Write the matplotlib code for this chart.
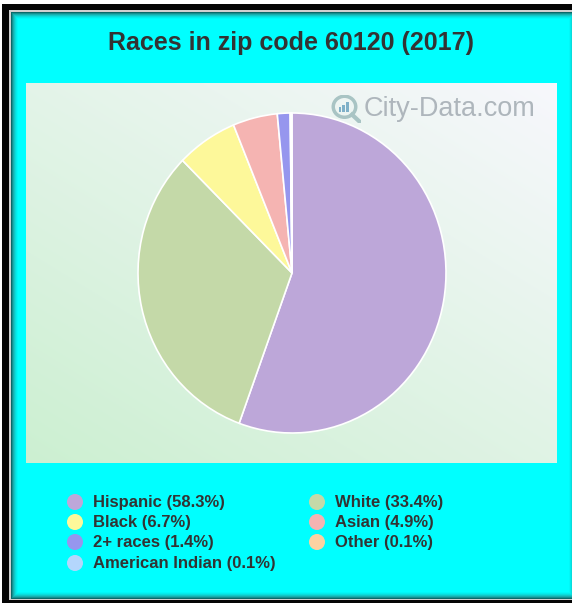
import matplotlib
matplotlib.use("Agg")
import matplotlib.pyplot as plt
import numpy as np
from matplotlib.patches import Rectangle, Ellipse

plt.rcParams['font.family'] = ['Liberation Sans', 'DejaVu Sans']

title = "Races in zip code 60120 (2017)"
categories = ["Hispanic", "White", "Black", "Asian", "2+ races", "Other", "American Indian"]
percents = [58.3, 33.4, 6.7, 4.9, 1.4, 0.1, 0.1]
colors = ["#bda7d9", "#c4d9a8", "#fdf89a", "#f5b4b2", "#9696ee", "#fcd2a2", "#b4d6fc"]
legend_order = [0, 1, 2, 3, 4, 5, 6]

W, H = 572, 603
fig = plt.figure(figsize=(W / 100, H / 100), dpi=100)
fig.patch.set_facecolor("white")

def fx(x):
    return x / W

def fy(y):
    return 1 - y / H

# frame / background
bg = fig.add_axes([0, 0, 1, 1])
bg.set_xlim(0, W)
bg.set_ylim(H, 0)
bg.axis("off")
bg.add_patch(Rectangle((2, 4), W + 10, H + 10, facecolor="#050505", edgecolor="none"))
bg.add_patch(Rectangle((9, 10), W + 10, H - 13, facecolor="#d0d0d0", edgecolor="none"))
# inner shadow layers
shades = ["#0a6a6a", "#129090", "#18aeae", "#12c6c6", "#0adcdc", "#04ecec", "#01f8f8"]
x0, y0, x1, y1 = 11, 12, W + 4, H - 4
for i, c in enumerate(shades):
    bg.add_patch(Rectangle((x0 + i, y0 + i), (x1 - x0) - 2 * i, (y1 - y0) - 2 * i,
                           facecolor=c, edgecolor="none"))
n = len(shades)
bg.add_patch(Rectangle((x0 + n, y0 + n), (x1 - x0) - 2 * n, (y1 - y0) - 2 * n,
                       facecolor="#00ffff", edgecolor="none"))

# plot area gradient
px0, py0, px1, py1 = 26, 83, 557, 463
grad_ax = fig.add_axes([fx(px0), fy(py1), fx(px1 - px0), (py1 - py0) / H])
gx = np.linspace(0, 1, 200)
gy = np.linspace(0, 1, 200)
GX, GY = np.meshgrid(gx, gy)
t = np.clip((GX * 0.6 + (1 - GY) * 0.7) / 1.3, 0, 1)  # 0 bottom-left, 1 top-right
c0 = np.array([0.80, 0.94, 0.82])
c1 = np.array([0.97, 0.97, 0.99])
img = c0[None, None, :] * (1 - t[..., None]) + c1[None, None, :] * t[..., None]
grad_ax.imshow(img, aspect="auto", origin="upper", extent=[0, 1, 0, 1])
grad_ax.set_xlim(0, 1)
grad_ax.set_ylim(0, 1)
grad_ax.axis("off")

# watermark
fig.text(fx(364), fy(109), "City-Data.com", fontsize=19.5, color="#aeb6bc",
         ha="left", va="center")
wm = fig.add_axes([fx(331), fy(123), fx(30), 28 / H])
wm.set_xlim(0, 1)
wm.set_ylim(0, 1)
wm.axis("off")
wm.add_patch(Ellipse((0.45, 0.58), 0.75, 0.75, facecolor="none", edgecolor="#a9c4c4", lw=2.5))
wm.plot([0.7, 0.95], [0.3, 0.05], color="#a9c4c4", lw=3)
for i, hgt in enumerate([0.18, 0.28, 0.38]):
    wm.add_patch(Rectangle((0.25 + i * 0.13, 0.38), 0.09, hgt, facecolor="#7fb0c8", edgecolor="none"))

# pie
cx, cy, rx, ry = 292, 273, 154, 160
pax = fig.add_axes([fx(cx - rx), fy(cy + ry), fx(2 * rx), 2 * ry / H])
pax.pie(percents, colors=colors, startangle=90, counterclock=False,
        wedgeprops=dict(edgecolor="white", linewidth=1.2))
pax.set_aspect("auto")
pax.set_xlim(-1, 1)
pax.set_ylim(-1, 1)
pax.axis("off")

# title
fig.text(fx(291), fy(43), title, fontsize=18, fontweight="bold", color="#333333",
         ha="center", va="center")

# legend
col_marker = [75, 317]
col_text = [93, 335]
row_y = [502, 522, 542, 563]
leg = fig.add_axes([0, 0, 1, 1])
leg.set_xlim(0, W)
leg.set_ylim(H, 0)
leg.axis("off")
for k, idx in enumerate(legend_order):
    col = k % 2
    row = k // 2
    y = row_y[row]
    leg.add_patch(Ellipse((col_marker[col], y), 16, 16, facecolor=colors[idx], edgecolor="none"))
    leg.text(col_text[col], y + 0.5, f"{categories[idx]} ({percents[idx]}%)", fontsize=12,
             fontweight="bold", color="#333333", ha="left", va="center")

fig.savefig("out.png", dpi=100)
